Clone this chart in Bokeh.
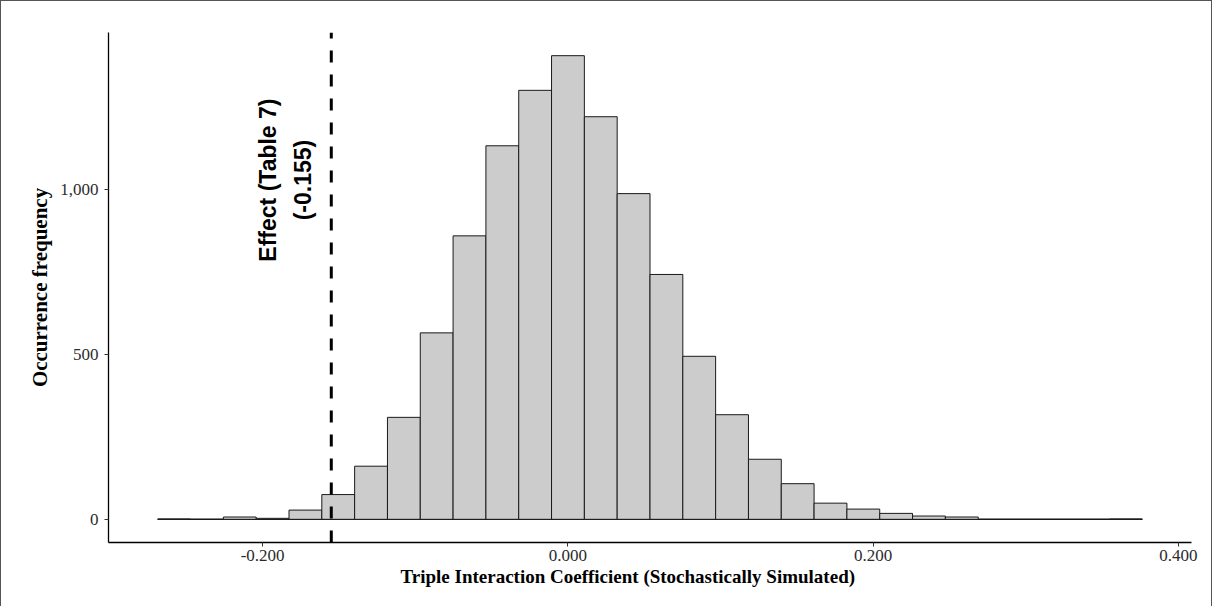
import math
from bokeh.plotting import figure
from bokeh.models import Range1d, NumeralTickFormatter, FixedTicker, ColumnDataSource, Title
from bokeh.core.properties import value
from bokeh.embed import file_html
from bokeh.resources import INLINE

# ---- data ----
bin_start = -0.2687          # left edge of first bin
bin_width = 0.0215           # 30 bins
counts = [1, 0, 7, 3, 28, 75, 161, 309, 565, 859, 1132, 1300, 1405, 1220, 987,
          742, 494, 317, 182, 108, 49, 31, 18, 10, 7, 0, 0, 0, 0, 1]
effect_value = -0.155
effect_label = "Effect (Table 7)\n(-0.155)"
x_ticks = [-0.2, 0.0, 0.2, 0.4]
y_ticks = [0, 500, 1000]
x_title = "Triple Interaction Coefficient (Stochastically Simulated)"
y_title = "Occurrence frequency"

left = [bin_start + i * bin_width for i in range(len(counts))]
right = [l + bin_width for l in left]
src = ColumnDataSource(dict(left=left, right=right, top=counts, bottom=[0] * len(counts)))

x_lo, x_hi = left[0], right[-1]
x_pad = 0.05 * (x_hi - x_lo)
y_max = max(counts)
y_pad = 0.05 * y_max

p = figure(width=1212, height=606,
           x_range=Range1d(x_lo - x_pad, x_hi + x_pad),
           y_range=Range1d(-y_pad, y_max + y_pad),
           output_backend="svg", toolbar_location=None,
           min_border_left=107, min_border_right=22,
           min_border_top=31, min_border_bottom=65)
p.title.visible = False
p.styles = {"border-left": "1px solid #555", "border-top": "1px solid #555",
            "border-right": "1px solid #555"}
p.xgrid.visible = False
p.ygrid.visible = False
p.outline_line_color = None

# baseline across the whole histogram range
p.line(x=[x_lo, x_hi], y=[0, 0], line_color="black", line_width=1.2)
p.quad(left="left", right="right", top="top", bottom="bottom", source=src,
       fill_color="#CCCCCC", line_color="#1a1a1a", line_width=1)

# dashed vertical effect line (drawn from the bottom of the panel upwards)
p.segment(x0=[effect_value], y0=[-y_pad], x1=[effect_value], y1=[y_max + y_pad],
          line_color="black", line_width=3, line_dash="12 12")

p.text(x=[-0.185], y=[1028], text=[effect_label], angle=math.pi / 2,
       text_align="center", text_baseline="middle",
       text_font=value("Liberation Sans"), text_font_style="bold",
       text_font_size="23px", text_line_height=1.35, text_color="black")

for ax in (p.xaxis[0], p.yaxis[0]):
    ax.axis_line_color = "black"
    ax.axis_line_width = 1.3
    ax.major_tick_line_color = "#333333"
    ax.major_tick_in = 0
    ax.major_tick_out = 4
    ax.minor_tick_line_color = None
    ax.major_label_text_font = "Liberation Serif"
    ax.major_label_text_font_size = "17px"
    ax.major_label_text_color = "#2b2b2b"
    ax.axis_label_text_font = "Liberation Serif"
    ax.axis_label_text_font_style = "bold"
    ax.axis_label_text_color = "black"

p.xaxis.ticker = FixedTicker(ticks=x_ticks)
p.xaxis.formatter = NumeralTickFormatter(format="0.000")
p.xaxis.major_label_standoff = 3

# x-axis title, placed slightly left of the panel centre as in the reference
p.add_layout(Title(text=x_title, align="left", offset=292, standoff=0,
                   text_font="Liberation Serif", text_font_style="bold",
                   text_font_size="19px", text_color="black"), "below")

p.yaxis.ticker = FixedTicker(ticks=y_ticks)
p.yaxis.formatter = NumeralTickFormatter(format="0,0")
p.yaxis.axis_label = y_title
p.yaxis.axis_label_text_font_size = "21px"
p.yaxis.major_label_standoff = 6
p.yaxis.axis_label_standoff = 5

open("out.html", "w").write(file_html(p, INLINE))
